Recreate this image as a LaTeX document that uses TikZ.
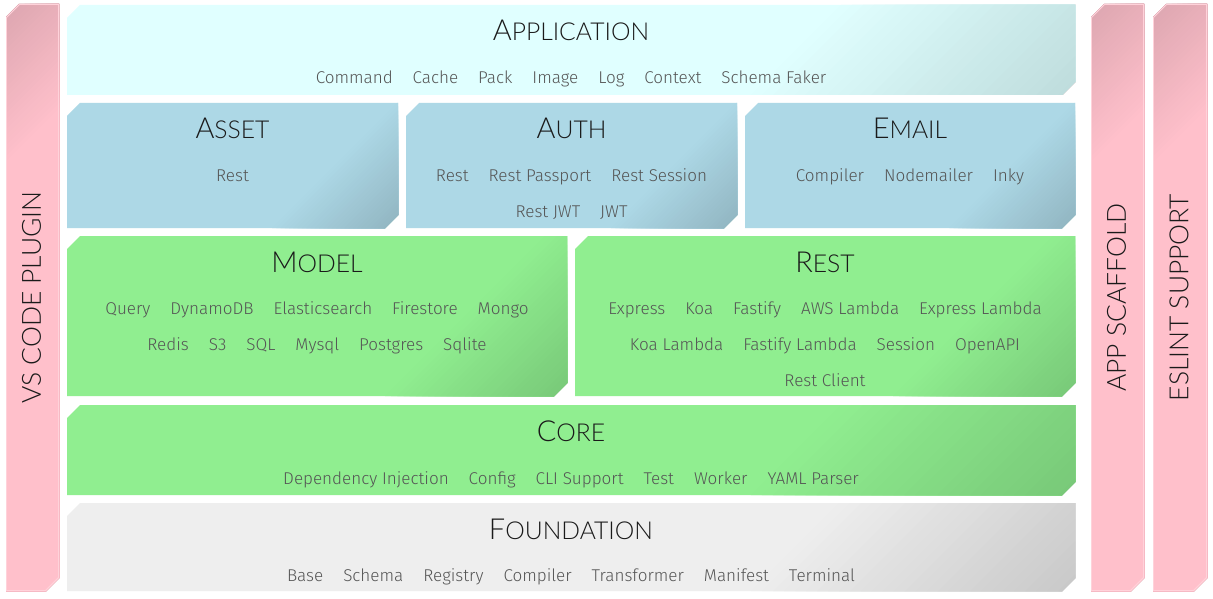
\documentclass[tikz,border=0pt]{standalone}
\usepackage{fontspec}
\newfontfamily\itemfont{Fira Sans}[UprightFont=* Light]
\newfontfamily\titlefont{Lato}[UprightFont=* Light]
\definecolor{appbase}{HTML}{E0FFFF}
\definecolor{appdark}{HTML}{BEDCDC}
\definecolor{bluebase}{HTML}{ADD8E6}
\definecolor{bluedark}{HTML}{90B4C0}
\definecolor{greenbase}{HTML}{90EE90}
\definecolor{greendark}{HTML}{78C878}
\definecolor{greybase}{HTML}{EEEEEE}
\definecolor{greydark}{HTML}{C8C8C8}
\definecolor{pinkbase}{HTML}{FFC0CB}
\definecolor{pinkdark}{HTML}{DCA6B0}
\definecolor{pinkedge}{HTML}{FFD2DA}
\definecolor{itemgray}{HTML}{555555}
\definecolor{titleink}{HTML}{1A1A1A}
% x1 y1 x2 y2 colorA colorB t0 t1
\newcommand\shbox[8]{%
  \fill[#5] (#1,#2+13) -- (#1+13,#2) -- (#3,#2) -- (#3,#4-13) -- (#3-13,#4) -- (#1,#4) -- cycle;
  \begin{scope}
    \clip (#1,#2+13) -- (#1+13,#2) -- (#3,#2) -- (#3,#4-13) -- (#3-13,#4) -- (#1,#4) -- cycle;
    \foreach \k in {1,...,30}{%
      \pgfmathsetmacro\S{#1+#2+(#7+(\k-0.5)/30*(#8-#7))*(#3-#1+#4-#2)}
      \pgfmathtruncatemacro\P{\k*100/30}
      \fill[#6!\P!#5] (\S+1000,-1000) -- (\S-3000,3000) -- (5000,5000) -- cycle;
    }
  \end{scope}}
\newcommand\ttl[2]{{\titlefont\fontsize{21.7}{25}\selectfont #1\fontsize{18.5}{22}\selectfont #2}}
\newcommand\sep{\hspace{15pt}}
\tikzset{
  boxtitle/.style={anchor=base, inner sep=0pt, text=titleink},
  items/.style={anchor=base, inner sep=0pt, text=itemgray, font=\itemfont\fontsize{12.8}{15}\selectfont},
  bartitle/.style={rotate=90, inner sep=0pt, text=titleink, font=\titlefont\fontsize{19.8}{24}\selectfont},
}
\begin{document}
\begin{tikzpicture}[x=0.75pt, y=-0.75pt]
\useasboundingbox (0,0) rectangle (1213,599);
\fill[white] (0,0) rectangle (1213,599);
% side bars
\shbox{6}{4}{59}{591}{pinkdark}{pinkbase}{0}{0.25}
\draw[pinkedge, line width=0.6pt] (6.5,4.5+13) -- (6.5+13,4.5) -- (58.5,4.5) -- (58.5,590.5-13) -- (58.5-13,590.5) -- (6.5,590.5) -- cycle;
\shbox{1091}{4}{1144}{591}{pinkdark}{pinkbase}{0}{0.25}
\draw[pinkedge, line width=0.6pt] (1091.5,4.5+13) -- (1091.5+13,4.5) -- (1143.5,4.5) -- (1143.5,590.5-13) -- (1143.5-13,590.5) -- (1091.5,590.5) -- cycle;
\shbox{1153}{4}{1207}{591}{pinkdark}{pinkbase}{0}{0.25}
\draw[pinkedge, line width=0.6pt] (1153.5,4.5+13) -- (1153.5+13,4.5) -- (1206.5,4.5) -- (1206.5,590.5-13) -- (1206.5-13,590.5) -- (1153.5,590.5) -- cycle;
% main boxes
\shbox{67}{5}{1075}{95}{appbase}{appdark}{0.7}{1}
\shbox{67}{103}{398}{228}{bluebase}{bluedark}{0.72}{1}
\shbox{406}{103}{737}{228}{bluebase}{bluedark}{0.72}{1}
\shbox{745}{103}{1075}{228}{bluebase}{bluedark}{0.72}{1}
\shbox{67}{236}{567}{396}{greenbase}{greendark}{0.72}{1}
\shbox{575}{236}{1075}{396}{greenbase}{greendark}{0.72}{1}
\shbox{67}{405}{1075}{495}{greenbase}{greendark}{0.7}{1}
\shbox{67}{503}{1075}{591}{greybase}{greydark}{0.7}{1}
% bar titles
\node[bartitle] (vsT) at (31.5,297.5) {VS CODE PLUGIN};
\node[bartitle] (scT) at (1116.5,297.5) {APP SCAFFOLD};
\node[bartitle] (esT) at (1179,297.5) {ESLINT SUPPORT};
% application
\node[boxtitle] (appT) at (571,41) {\ttl{A}{PPLICATION}};
\node[items] (appI) at (571,84) {Command\sep Cache\sep Pack\sep Image\sep Log\sep Context\sep Schema Faker};
% asset / auth / email
\node[boxtitle] (assetT) at (232.5,139) {\ttl{A}{SSET}};
\node[items] (assetI) at (232.5,181) {Rest};
\node[boxtitle] (authT) at (571.5,139) {\ttl{A}{UTH}};
\node[items] (authI1) at (571.5,181) {Rest\sep Rest Passport\sep Rest Session};
\node[items] (authI2) at (571.5,217) {Rest JWT\sep JWT};
\node[boxtitle] (emailT) at (910,139) {\ttl{E}{MAIL}};
\node[items] (emailI) at (910,181) {Compiler\sep Nodemailer\sep Inky};
% model / rest
\node[boxtitle] (modelT) at (317,272) {\ttl{M}{ODEL}};
\node[items] (modelI1) at (317,314) {Query\sep DynamoDB\sep Elasticsearch\sep Firestore\sep Mongo};
\node[items] (modelI2) at (317,350) {Redis\sep S3\sep SQL\sep Mysql\sep Postgres\sep Sqlite};
\node[boxtitle] (restT) at (825,272) {\ttl{R}{EST}};
\node[items] (restI1) at (825,314) {Express\sep Koa\sep Fastify\sep AWS Lambda\sep Express Lambda};
\node[items] (restI2) at (825,350) {Koa Lambda\sep Fastify Lambda\sep Session\sep OpenAPI};
\node[items] (restI3) at (825,386) {Rest Client};
% core
\node[boxtitle] (coreT) at (571,441) {\ttl{C}{ORE}};
\node[items] (coreI) at (571,484) {Dependency Injection\sep Config\sep CLI Support\sep Test\sep Worker\sep YAML Parser};
% foundation
\node[boxtitle] (foundT) at (571,539) {\ttl{F}{OUNDATION}};
\node[items] (foundI) at (571,581) {Base\sep Schema\sep Registry\sep Compiler\sep Transformer\sep Manifest\sep Terminal};
\end{tikzpicture}
\end{document}
